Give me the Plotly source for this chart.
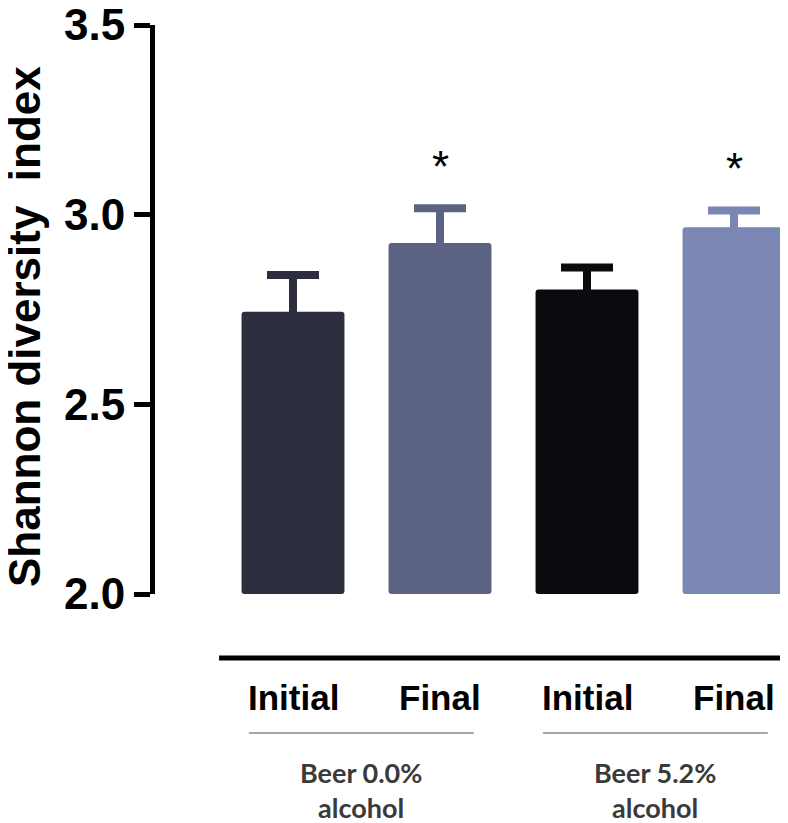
import plotly.graph_objects as go

# ---- data ----
categories = ["Initial", "Final", "Initial ", "Final "]
shannon_mean = [2.744, 2.925, 2.803, 2.967]
shannon_err = [0.097, 0.092, 0.058, 0.044]
significance = ["", "*", "", "*"]
bar_colors = ["#2c2e3e", "#5c6382", "#0b0b0f", "#7a86b3"]
group_labels = ["Beer 0.0%<br>alcohol", "Beer 5.2%<br>alcohol"]
group_members = [(0, 1), (2, 3)]
y_ticks = [2.0, 2.5, 3.0, 3.5]

# page body has an 8px margin: lay the figure out in reference pixels minus 8
OFF = 8
W, H = 788 - OFF, 823 - OFF
ML, MR, MT = 155 - OFF, 0, 25 - OFF
MB = H - (594 - OFF)
plot_w = W - ML - MR
plot_h = H - MT - MB

step_px = 147.0
first_center_px = 293.0 - OFF
x0 = -(first_center_px - ML) / step_px
x1 = (W - MR - first_center_px) / step_px


def py(ref_pix):
    """reference pixel y -> paper y"""
    return (H - MB - (ref_pix - OFF)) / plot_h


def px(ref_pix):
    """reference pixel x -> paper x"""
    return ((ref_pix - OFF) - ML) / plot_w


fig = go.Figure()
for i, cat in enumerate(categories):
    fig.add_trace(go.Bar(
        x=[i], y=[shannon_mean[i] - 2.0], base=2.0,
        width=0.70,
        marker=dict(color=bar_colors[i], line=dict(width=0), cornerradius=3),
        # lower end hidden inside the same-coloured bar
        error_y=dict(type="data", array=[shannon_err[i]], arrayminus=[0.03],
                     symmetric=False, color=bar_colors[i], thickness=8, width=26),
        showlegend=False,
        hoverinfo="skip",
    ))

annotations = []
for i, s in enumerate(significance):
    if s:
        annotations.append(dict(
            x=i, y=shannon_mean[i] + shannon_err[i], xref="x", yref="y",
            text=s, showarrow=False, yanchor="bottom", yshift=15,
            font=dict(family="Liberation Sans", size=44, color="black"),
        ))
for i, cat in enumerate(categories):
    annotations.append(dict(
        x=i, y=py(697), xref="x", yref="paper", text=cat.strip(),
        showarrow=False, yanchor="middle", xanchor="center",
        font=dict(family="Liberation Sans", size=35, color="black", weight="bold"),
    ))
shapes = []
for (a, b), lab in zip(group_members, group_labels):
    shapes.append(dict(type="line", xref="x", yref="paper",
                       x0=a - 0.30, x1=b + 0.23, y0=py(733), y1=py(733),
                       line=dict(color="#8a8a8a", width=1.5)))
    annotations.append(dict(
        x=(a + b) / 2 - 0.04, y=py(790), xref="x", yref="paper", text=lab,
        showarrow=False, yanchor="middle", xanchor="center",
        font=dict(family="Lato", size=27, color="#3a3a3a", weight="bold"),
    ))
shapes.append(dict(type="line", xref="x", yref="paper",
                   x0=-0.503, x1=x1 - 0.015, y0=py(658), y1=py(658),
                   line=dict(color="black", width=5)))
annotations.append(dict(
    x=px(25), y=py(327), xref="paper", yref="paper",
    text="Shannon diversity\u00a0\u00a0index", textangle=-90, showarrow=False,
    xanchor="center", yanchor="middle",
    font=dict(family="Liberation Sans", size=44, color="black", weight="bold"),
))

fig.update_layout(
    width=W, height=H,
    margin=dict(l=ML, r=MR, t=MT, b=MB, pad=0, autoexpand=False),
    paper_bgcolor="white", plot_bgcolor="white",
    barmode="overlay",
    xaxis=dict(range=[x0, x1], showticklabels=False, showline=False,
               showgrid=False, zeroline=False, ticks="", automargin=False),
    yaxis=dict(range=[2.0, 3.5], tickvals=y_ticks,
               ticktext=[f"{v:.1f}" for v in y_ticks],
               showline=True, linecolor="black", linewidth=5,
               ticks="outside", ticklen=16, tickwidth=5, tickcolor="black",
               showgrid=False, zeroline=False, ticklabeloverflow="allow",
               automargin=False,
               tickfont=dict(family="Liberation Sans", size=44, color="black",
                             weight="bold")),
    annotations=annotations,
    shapes=shapes,
)

fig.write_html("out.html")
